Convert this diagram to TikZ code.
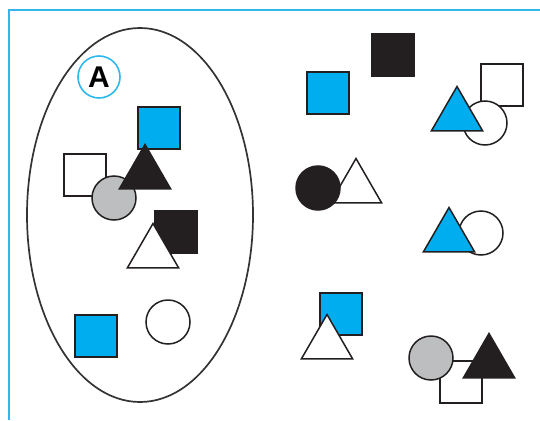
\documentclass[tikz,border=0pt]{standalone}
\usepackage{fontspec}
\setsansfont{Liberation Sans}
\usepackage{tikz}
\usetikzlibrary{shapes.geometric}
\definecolor{skyfill}{HTML}{00AEEF}
\definecolor{inkblack}{HTML}{231F20}
\definecolor{shadegray}{HTML}{BCBEC0}
\definecolor{frameblue}{HTML}{2EB8EC}

\begin{document}
\begin{tikzpicture}[x=1pt, y=-1pt,
  shp/.style={draw=inkblack, line width=1.5pt, inner sep=0pt, outer sep=0pt},
  sq/.style={shp, rectangle, minimum size=42pt},
  circ/.style={shp, circle, minimum size=44pt},
  tri/.style={shp, regular polygon, regular polygon sides=3, minimum size=59pt},
  sky/.style={fill=skyfill},
  ink/.style={fill=inkblack},
  blank/.style={fill=white},
  shade/.style={fill=shadegray}]
\useasboundingbox (0,0) rectangle (540,420);
\draw[frameblue, line width=2pt] (9,420) |- (540,10);
\node[draw=black!80, line width=1.7pt, ellipse, minimum width=226pt, minimum height=374pt, inner sep=0pt] (set) at (140,215) {};
\node[draw=frameblue, fill=white, line width=1.6pt, circle, minimum size=42pt, inner sep=0pt,
      font=\sffamily\bfseries\fontsize{30}{30}\selectfont] (lblA) at (99,77) {A};
% inside the set
\node[sq, blank] (wsqL) at (85,175) {};
\node[circ, shade] (gcirL) at (114,198) {};
\node[sq, sky] (bsqL) at (159,128) {};
\node[tri, ink] (ktriL) at (145,174) {};
\node[sq, ink] (ksqL) at (176,232) {};
\node[tri, blank] (wtriL) at (153,253) {};
\node[sq, sky] (bsqL2) at (96,336) {};
\node[circ, blank] (wcirL) at (168,322) {};
% outside the set
\node[sq, sky] (bsqR) at (328,93) {};
\node[sq, ink] (ksqR) at (393,55) {};
\node[sq, blank] (wsqR) at (502,85) {};
\node[circ, blank] (wcirR) at (485,123) {};
\node[tri, sky] (btriR) at (457,116) {};
\node[tri, blank] (wtriR) at (356,188) {};
\node[circ, ink] (kcirR) at (318,188) {};
\node[circ, blank] (wcirR2) at (481,233) {};
\node[tri, sky] (btriR2) at (449,237) {};
\node[sq, sky] (bsqR2) at (341,314) {};
\node[tri, blank] (wtriR2) at (327,344) {};
\node[sq, blank] (wsqR2) at (461,382) {};
\node[circ, shade] (gcirR) at (431,358) {};
\node[tri, ink] (ktriR) at (489,363) {};
\end{tikzpicture}
\end{document}
